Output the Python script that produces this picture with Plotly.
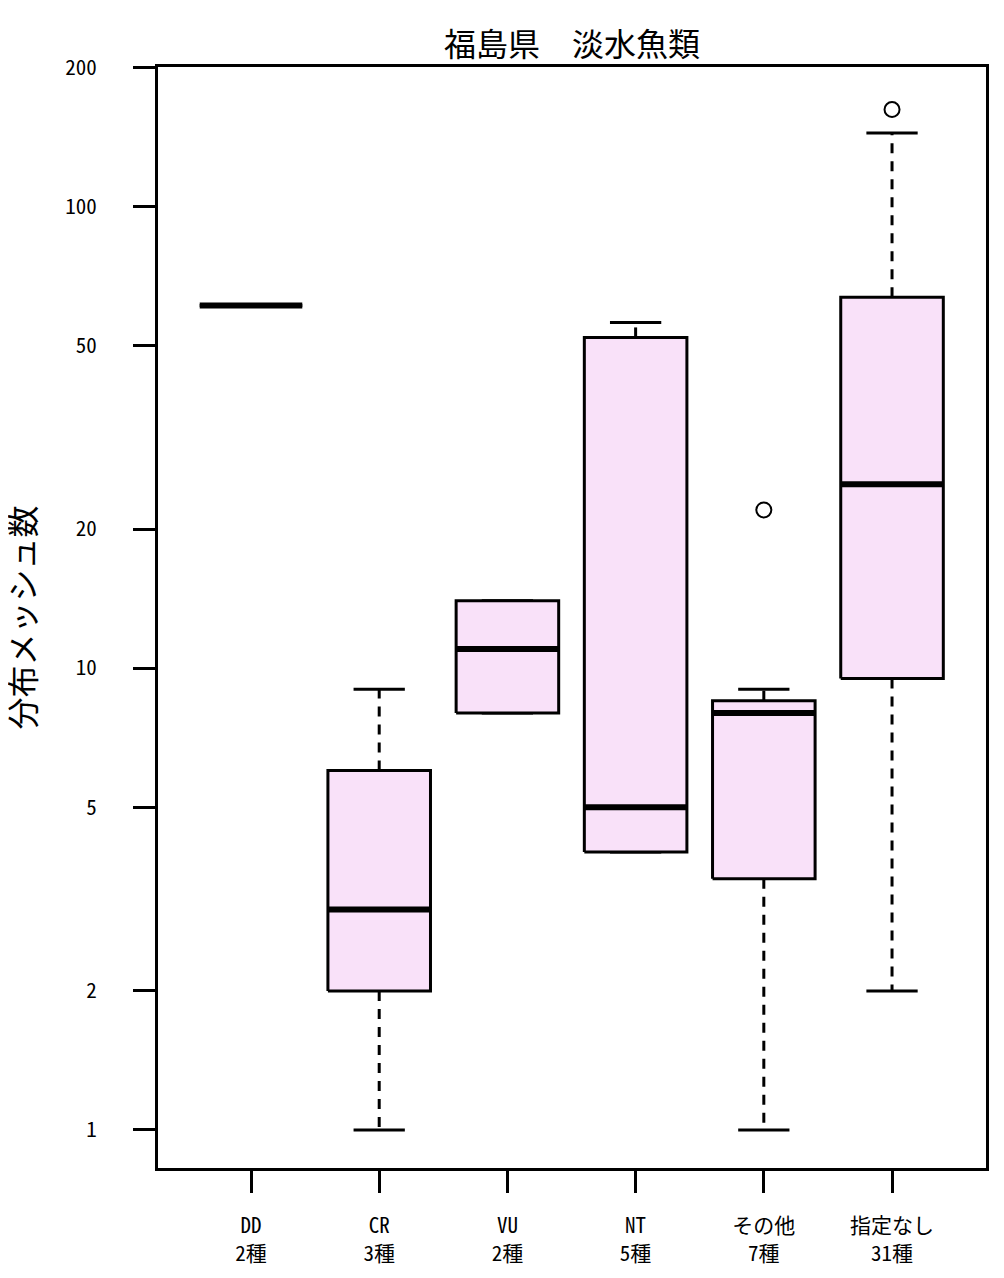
import math
import plotly.graph_objects as go

# ---- data ----
categories = ["DD", "CR", "VU", "NT", "その他", "指定なし"]
species_counts = [2, 3, 2, 5, 7, 31]
values_dd = [61, 61]
values_cr = [1, 3, 9]
values_vu = [8, 14]
values_nt = [4, 4, 5, 52, 56]
values_other = [1, 3, 4, 8, 8, 9, 22]
values_none = [2, 3, 4, 5, 6, 7, 8, 9, 10, 12, 14, 16, 18, 20, 22, 25,
               28, 32, 36, 40, 45, 52, 62, 65, 75, 85, 95, 105, 120, 144, 162]
groups = [values_dd, values_cr, values_vu, values_nt, values_other, values_none]
ytick_vals = [1, 2, 5, 10, 20, 50, 100, 200]
ytick_text = ["1", "2", "5", "10", "20", "50", "100", "200"]

title_text = "福島県　淡水魚類"
ylabel_text = "分布メッシュ数"

FILL = "#F9E1F9"
BOXW = 0.4   # half box width
CAPW = 0.2   # half staple width
LAT_FONT = "Noto Sans Mono CJK JP, Noto Sans CJK JP, sans-serif"
CJK_FONT = "Noto Sans CJK JP, sans-serif"


def fivenum(v):
    x = sorted(v)
    n = len(x)
    n4 = math.floor((n + 3) / 2) / 2
    d = [1, n4, (n + 1) / 2, n + 1 - n4, n]
    return [0.5 * (x[math.floor(di) - 1] + x[math.ceil(di) - 1]) for di in d]


fig = go.Figure()

for i, vals in enumerate(groups):
    pos = i + 1
    mn, q1, med, q3, mx = fivenum(vals)
    iqr = q3 - q1
    lo_f, hi_f = q1 - 1.5 * iqr, q3 + 1.5 * iqr
    inside = [v for v in vals if lo_f <= v <= hi_f]
    outs = [v for v in vals if v < lo_f or v > hi_f]
    wlo, whi = min(inside), max(inside)

    # whiskers (dashed)
    for a, b in [(q3, whi), (q1, wlo)]:
        if b != a:
            fig.add_trace(go.Scatter(x=[pos, pos], y=[a, b], mode="lines",
                                     line=dict(color="black", width=3, dash="10px,8px")))
    # staples
    for w in [whi, wlo]:
        fig.add_trace(go.Scatter(x=[pos - CAPW, pos + CAPW], y=[w, w], mode="lines",
                                 line=dict(color="black", width=3)))
    # box
    fig.add_trace(go.Scatter(x=[pos - BOXW, pos + BOXW, pos + BOXW, pos - BOXW, pos - BOXW],
                             y=[q1, q1, q3, q3, q1], mode="lines", fill="toself",
                             fillcolor=FILL, line=dict(color="black", width=3)))
    # median
    fig.add_trace(go.Scatter(x=[pos - BOXW, pos + BOXW], y=[med, med], mode="lines",
                             line=dict(color="black", width=6)))
    # outliers
    if outs:
        fig.add_trace(go.Scatter(x=[pos] * len(outs), y=outs, mode="markers",
                                 marker=dict(symbol="circle-open", size=15,
                                             color="black", line=dict(width=2))))

xtick_text = [f"{c}<br>{n}種" for c, n in zip(categories, species_counts)]

W, H = 996, 1270
fig.update_layout(
    width=W, height=H,
    margin=dict(l=150, r=18, t=59, b=110, autoexpand=False),
    paper_bgcolor="white", plot_bgcolor="white",
    showlegend=False, hovermode=False,
    title=dict(text=title_text, x=0.5, xref="paper", xanchor="center",
               y=1 - 37 / H, yref="container", yanchor="middle",
               font=dict(family=CJK_FONT, size=32, color="black")),
    xaxis=dict(range=[0.2746, 6.733], tickmode="array",
               tickvals=list(range(1, len(categories) + 1)), ticktext=xtick_text,
               ticks="outside", ticklen=22, tickwidth=3, tickcolor="black",
               showline=True, linewidth=3, linecolor="black", mirror=True,
               showgrid=False, zeroline=False, ticklabelstandoff=15,
               tickfont=dict(family=LAT_FONT, size=21, color="black")),
    yaxis=dict(type="log", range=[-0.0823, 2.3015], tickmode="array",
               tickvals=ytick_vals, ticktext=ytick_text,
               ticks="outside", ticklen=22, tickwidth=3, tickcolor="black",
               showline=True, linewidth=3, linecolor="black", mirror=True,
               showgrid=False, zeroline=False, ticklabelstandoff=32,
               tickfont=dict(family=LAT_FONT, size=21, color="black")),
    annotations=[dict(text=ylabel_text, xref="paper", yref="paper", x=0, y=0.5,
                      xshift=-138, xanchor="center", yanchor="middle",
                      textangle=-90, showarrow=False,
                      font=dict(family=CJK_FONT, size=32, color="black"))],
)

fig.write_html("out.html")
